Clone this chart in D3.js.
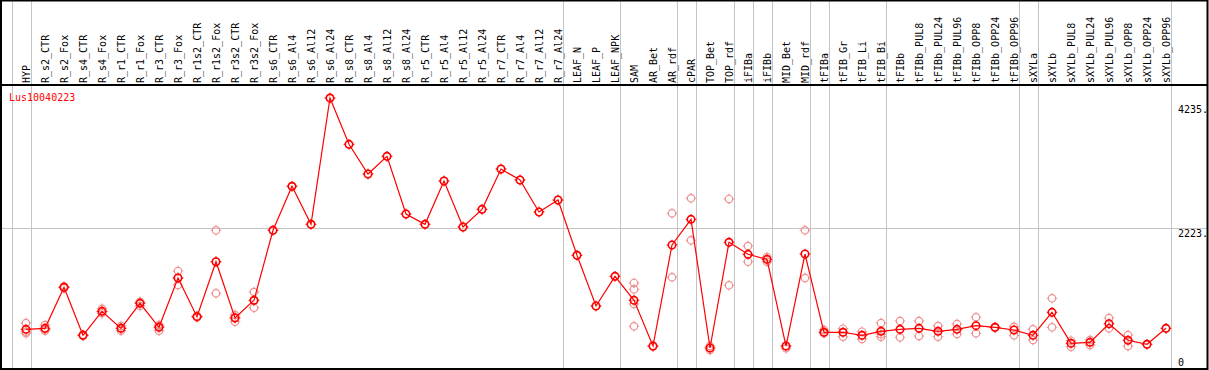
<!DOCTYPE html>
<html><head><meta charset="utf-8">
<script src="https://cdn.jsdelivr.net/npm/d3@7"></script>
<style>html,body{margin:0;padding:0;background:#fff;}svg{display:block;}</style>
</head><body>
<svg id="chart" width="1209" height="370"></svg>
<script>
const geneName = "Lus10040223";
const categories = ["HYP","R_s2_CTR","R_s2_Fox","R_s4_CTR","R_s4_Fox","R_r1_CTR","R_r1_Fox","R_r3_CTR","R_r3_Fox","R_r1s2_CTR","R_r1s2_Fox","R_r3s2_CTR","R_r3s2_Fox","R_s6_CTR","R_s6_Al4","R_s6_Al12","R_s6_Al24","R_s8_CTR","R_s8_Al4","R_s8_Al12","R_s8_Al24","R_r5_CTR","R_r5_Al4","R_r5_Al12","R_r5_Al24","R_r7_CTR","R_r7_Al4","R_r7_Al12","R_r7_Al24","LEAF_N","LEAF_P","LEAF_NPK","SAM","AR_Bet","AR_rdf","cPAR","TOP_Bet","TOP_rdf","iFIBa","iFIBb","MID_Bet","MID_rdf","tFIBa","tFIB_Gr","tFIB_Li","tFIB_Bi","tFIBb","tFIBb_PUL8","tFIBb_PUL24","tFIBb_PUL96","tFIBb_OPP8","tFIBb_OPP24","tFIBb_OPP96","sXYLa","sXYLb","sXYLb_PUL8","sXYLb_PUL24","sXYLb_PUL96","sXYLb_OPP8","sXYLb_OPP24","sXYLb_OPP96"];
const means = [579,595,1261,482,871,595,1001,612,1412,784,1676,763,1050,2186,2900,2283,4332,3581,3099,3386,2450,2283,2986,2239,2526,3180,3002,2483,2677,1780,957,1439,1050,308,1947,2364,276,1991,1796,1715,308,1801,531,531,482,547,579,595,547,579,638,612,568,482,855,352,368,670,401,336,595];
const replicates = [[681,540,516],[649,579,557],[1261,1250,1275],[482,475,490],[913,839,871],[633,557,595],[1027,957,1010],[649,557,630],[1525,1298,1412],[784,775,795],[2186,1163,1676],[811,703,775],[1184,930,1040],[2186],[2900],[2283],[4332],[3581],[3099],[3386],[2450],[2283],[2986],[2239],[2526],[3180],[3002],[2483],[2677],[1780],[957],[1439],[1331,1228,990,628],[308,300],[2461,1423],[2705,2023],[243,308],[2694,1293],[1931,1676],[1753,1676],[271,308],[2186,1412],[568,514],[589,459],[540,422],[681,459,500],[714,449],[714,471],[633,459],[665,503],[774,514],[612,605],[621,482],[579,406],[1082,612],[394,297],[406,325],[763,595],[487,308],[336],[595]];
const yTickValues = [0, 2223, 4235];
const yTickLabels = ["0", "2223.", "4235."];
const groupEnds = [-1,0,28,31,34,35,37,38,39,41,42,45,52,53,60];
const yMax = 4446;

const svg = d3.select("#chart");
const W = 1209, H = 370;
const x = d3.scalePoint().domain(categories).range([26, 1166]);
const step = x.step();
const y = d3.scaleLinear().domain([0, yMax]).range([365, 91]);
const FONT = "'DejaVu Sans Mono', 'Liberation Mono', monospace";

svg.append("rect").attr("width", W).attr("height", H).attr("fill", "#fff");

// vertical group gridlines
const gx = i => (i < 0 ? x(categories[0]) - step : x(categories[i])) + 4.7;
svg.append("g").selectAll("line").data(groupEnds).join("line")
  .attr("x1", d => Math.round(gx(d)) + 0.5).attr("x2", d => Math.round(gx(d)) + 0.5)
  .attr("y1", 0).attr("y2", 369)
  .attr("stroke", "#c4c4c4").attr("stroke-width", 1);

// horizontal mid gridline
svg.append("line")
  .attr("x1", 2).attr("x2", 1207)
  .attr("y1", Math.round(y(2223)) + 0.5).attr("y2", Math.round(y(2223)) + 0.5)
  .attr("stroke", "#c4c4c4").attr("stroke-width", 1);

// frame
svg.append("rect").attr("x", 1).attr("y", 0.5).attr("width", 1206.5).attr("height", 368.5)
  .attr("fill", "none").attr("stroke", "#000").attr("stroke-width", 2);
svg.append("line").attr("x1", 1).attr("x2", 1208).attr("y1", 85).attr("y2", 85)
  .attr("stroke", "#000").attr("stroke-width", 2);

// category labels
svg.append("g").selectAll("text").data(categories).join("text")
  .attr("transform", d => `translate(${x(d) + 3.5},83) rotate(-90)`)
  .attr("font-family", FONT).attr("font-size", 10).attr("fill", "#000")
  .text(d => d);

// y tick labels
svg.append("g").selectAll("text").data(yTickValues).join("text")
  .attr("x", 1178)
  .attr("y", (d, i) => d === 0 ? 366 : y(d) + 8.5)
  .attr("font-family", FONT).attr("font-size", 10).attr("fill", "#000")
  .text((d, i) => yTickLabels[i]);

// gene name
svg.append("text").attr("x", 9).attr("y", 101)
  .attr("font-family", FONT).attr("font-size", 10).attr("fill", "#ff0000")
  .text(geneName);

function marker(g, cx, cy, color, sw) {
  g.append("circle").attr("cx", cx).attr("cy", cy).attr("r", 3.7)
    .attr("fill", "none").attr("stroke", color).attr("stroke-width", sw);
  const t = [[0,-3.7,0,-5.3],[0,3.7,0,5.3],[-3.7,0,-5.3,0],[3.7,0,5.3,0]];
  t.forEach(s => g.append("line").attr("x1", cx+s[0]).attr("y1", cy+s[1]).attr("x2", cx+s[2]).attr("y2", cy+s[3])
    .attr("stroke", color).attr("stroke-width", 1));
}

// replicates
const rg = svg.append("g");
replicates.forEach((reps, i) => reps.forEach(v => marker(rg, x(categories[i]), y(v), "#ef8f8f", 1.2)));

// mean line
svg.append("path")
  .attr("d", d3.line().x((d, i) => x(categories[i])).y(d => y(d))(means))
  .attr("fill", "none").attr("stroke", "#ff0000").attr("stroke-width", 1.2);

// mean markers
const mg = svg.append("g");
means.forEach((v, i) => marker(mg, x(categories[i]), y(v), "#ff0000", 1.6));
</script>
</body></html>
